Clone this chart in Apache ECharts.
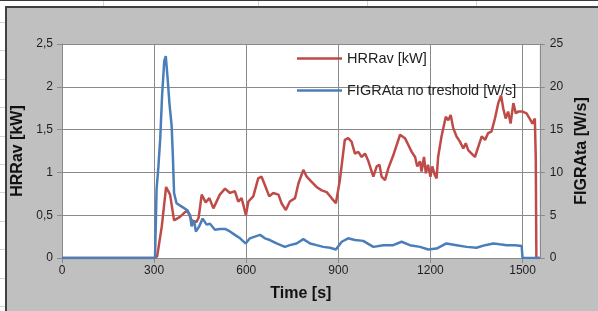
<!DOCTYPE html>
<html>
<head>
<meta charset="utf-8">
<script src="https://cdn.jsdelivr.net/npm/echarts@6/dist/echarts.min.js"></script>
<style>
  body { margin: 0; background: #fff; }
  #sheet { position: absolute; left: 0; top: 0; width: 598px; height: 311px; overflow: hidden; background: #fff; }
  .topline { position: absolute; left: 0; top: 0; width: 598px; height: 1px; background: #3a3a3a; }
  .vline { position: absolute; top: 1px; width: 1px; height: 6px; background: #d4d4d4; }
  .rows { position: absolute; left: 0; top: 7px; width: 5px; height: 304px;
    background: repeating-linear-gradient(to bottom, transparent 0, transparent 15px, #d4d4d4 15px, #d4d4d4 16px, transparent 16px, transparent 28.4px); }
  #frame { position: absolute; left: 5px; top: 6px; width: 593px; height: 305px; box-sizing: border-box;
    background: #c0c0c0; border-left: 2px solid #404040; border-top: 2px solid #404040; }
  #main { position: absolute; left: 0; top: 0; width: 598px; height: 311px; }
</style>
</head>
<body>
<div id="sheet">
  <div class="topline"></div>
  <div class="vline" style="left:103px"></div>
  <div class="vline" style="left:258px"></div>
  <div class="vline" style="left:367px"></div>
  <div class="vline" style="left:476px"></div>
  <div class="rows"></div>
  <div id="frame"></div>
  <div id="main"></div>
</div>
<script>
// HRRav [kW] - left axis
const hrrTime = [0, 300, 310, 325, 339, 352, 365, 384, 408, 422, 438, 445, 455, 468, 480, 493, 514, 531, 547, 563,
  574, 585, 599, 607, 623, 639, 650, 661, 675, 688, 705, 715, 729, 742, 759, 770, 786, 797, 813, 829,
  846, 862, 878, 892, 905, 921, 932, 943, 954, 965, 976, 987, 998, 1014, 1025, 1034, 1041, 1052, 1063, 1079,
  1101, 1117, 1128, 1139, 1150, 1157, 1166, 1171, 1179, 1185, 1192, 1200, 1206, 1214, 1220, 1225, 1236, 1250, 1258, 1266,
  1274, 1285, 1296, 1307, 1315, 1323, 1334, 1345, 1356, 1367, 1378, 1388, 1399, 1410, 1421, 1430, 1437, 1445, 1453, 1461,
  1470, 1478, 1486, 1500, 1513, 1526, 1532, 1540, 1543, 1545, 1556]
const hrrValues = [0, 0, 0.02, 0.37, 0.83, 0.74, 0.44, 0.48, 0.56, 0.44, 0.42, 0.47, 0.74, 0.65, 0.70, 0.58, 0.74, 0.81, 0.76, 0.78,
  0.66, 0.70, 0.50, 0.66, 0.72, 0.93, 0.95, 0.85, 0.72, 0.76, 0.74, 0.64, 0.56, 0.66, 0.70, 0.87, 1.03, 0.95, 0.89, 0.83,
  0.79, 0.77, 0.70, 0.64, 0.91, 1.38, 1.40, 1.36, 1.22, 1.24, 1.18, 1.22, 1.13, 0.95, 1.07, 1.09, 0.95, 0.91, 1.05, 1.20,
  1.44, 1.40, 1.32, 1.24, 1.18, 1.07, 1.13, 1.01, 1.18, 0.99, 1.09, 0.95, 1.07, 0.97, 0.93, 1.18, 1.42, 1.65, 1.61, 1.67,
  1.52, 1.42, 1.36, 1.28, 1.34, 1.26, 1.22, 1.18, 1.30, 1.42, 1.38, 1.46, 1.48, 1.63, 1.81, 1.90, 1.75, 1.63, 1.71, 1.57,
  1.81, 1.69, 1.71, 1.71, 1.69, 1.61, 1.57, 1.63, 1.18, 0, 0]

// FIGRAta no treshold [W/s] - right axis
const figraTime = [0, 303, 308, 314, 320, 326, 333, 338, 344, 350, 357, 361, 365, 373, 390, 407, 417, 422, 430, 436,
  447, 458, 471, 482, 498, 514, 531, 547, 563, 580, 598, 612, 628, 645, 661, 677, 699, 726, 742, 764,
  786, 808, 829, 851, 873, 892, 911, 932, 954, 981, 1014, 1047, 1079, 1106, 1133, 1166, 1193, 1220, 1252, 1285,
  1318, 1350, 1378, 1405, 1426, 1448, 1475, 1497, 1500, 1556]
const figraValues = [0, 0, 8, 10.7, 14, 19, 23, 23.6, 21, 18, 15.5, 12, 7.6, 6.4, 6.0, 5.6, 5.0, 3.7, 4.4, 3.1,
  3.7, 4.6, 3.9, 4.0, 3.3, 3.4, 3.4, 3.1, 2.7, 2.3, 1.7, 2.3, 2.5, 2.7, 2.3, 2.1, 1.7, 1.3, 1.5, 1.7,
  2.2, 1.7, 1.5, 1.3, 1.2, 1.0, 1.9, 2.3, 2.1, 2.0, 1.3, 1.5, 1.5, 1.9, 1.5, 1.3, 1.0, 1.1, 1.7, 1.5,
  1.3, 1.2, 1.5, 1.7, 1.6, 1.5, 1.5, 1.4, 0, 0]

const xTicks = [0, 300, 600, 900, 1200, 1500]

const font = 'Arial, "Liberation Sans", sans-serif'
const gridColor = '#8a8a8a'
const labelColor = '#1e1e1e'

const chart = echarts.init(document.getElementById('main'))
chart.setOption({
  animation: false,
  grid: { left: 62, right: 58, top: 44, bottom: 53, show: true, backgroundColor: '#fff', borderWidth: 0 },
  legend: {
    orient: 'vertical',
    left: 292, top: 46,
    icon: 'rect',
    itemWidth: 45, itemHeight: 2.5, itemGap: 17,
    textStyle: { fontFamily: font, fontSize: 14.5, color: '#222' },
    data: ['HRRav [kW]', 'FIGRAta no treshold [W/s]']
  },
  xAxis: {
    type: 'value', min: 0, max: 1556, interval: 300,
    name: 'Time [s]', nameLocation: 'middle', nameGap: 28,
    nameTextStyle: { fontFamily: font, fontSize: 16, fontWeight: 'bold', color: '#111' },
    axisLine: { lineStyle: { color: gridColor } },
    axisTick: { length: 5, lineStyle: { color: gridColor } },
    axisLabel: {
      showMaxLabel: false, margin: 7, fontFamily: font, fontSize: 12, color: labelColor,
      formatter: v => xTicks.includes(v) ? String(v) : ''
    },
    splitLine: { show: true, lineStyle: { color: gridColor } }
  },
  yAxis: [{
    type: 'value', min: 0, max: 2.5, interval: 0.5, position: 'left',
    name: 'HRRav [kW]', nameLocation: 'middle', nameGap: 34,
    nameTextStyle: { fontFamily: font, fontSize: 16, fontWeight: 'bold', color: '#111' },
    axisLine: { show: true, lineStyle: { color: gridColor } },
    axisTick: { show: true, length: 5, lineStyle: { color: gridColor } },
    axisLabel: { margin: 9, fontFamily: font, fontSize: 12, color: labelColor,
      formatter: v => String(v).replace('.', ',') },
    splitLine: { show: true, lineStyle: { color: gridColor } }
  }, {
    type: 'value', min: 0, max: 25, interval: 5, position: 'right',
    name: 'FIGRAta [W/s]', nameLocation: 'middle', nameGap: 33, nameRotate: 90,
    nameTextStyle: { fontFamily: font, fontSize: 16, fontWeight: 'bold', color: '#111' },
    axisLine: { show: true, lineStyle: { color: gridColor } },
    axisTick: { show: true, length: 5, lineStyle: { color: gridColor } },
    axisLabel: { margin: 10, fontFamily: font, fontSize: 12, color: labelColor },
    splitLine: { show: false }
  }],
  series: [{
    name: 'HRRav [kW]', type: 'line', yAxisIndex: 0, symbol: 'none',
    data: hrrTime.map((t, i) => [t, hrrValues[i]]),
    lineStyle: { color: '#be4b48', width: 2.5 },
    itemStyle: { color: '#be4b48' }
  }, {
    name: 'FIGRAta no treshold [W/s]', type: 'line', yAxisIndex: 1, symbol: 'none',
    data: figraTime.map((t, i) => [t, figraValues[i]]),
    lineStyle: { color: '#4a7ebb', width: 2.5 },
    itemStyle: { color: '#4a7ebb' }
  }]
})
</script>
</body>
</html>
